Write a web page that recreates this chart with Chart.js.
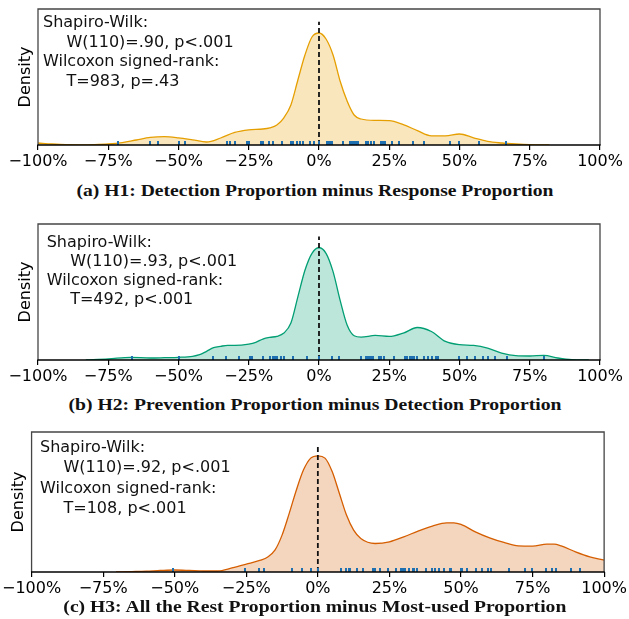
<!DOCTYPE html>
<html><head><meta charset="utf-8">
<script src="https://cdn.jsdelivr.net/npm/chart.js@4"></script>
<style>
html,body{margin:0;padding:0;background:#fff;}
body{width:629px;height:619px;position:relative;overflow:hidden;}
canvas{position:absolute;left:0;}
.ann{position:absolute;font-family:"DejaVu Sans";font-size:16px;color:#111;white-space:nowrap;z-index:2}
.ann .ind{padding-left:23.5px}
.cap{position:absolute;left:0;width:629px;text-align:center;font-family:"Liberation Serif";font-weight:bold;font-size:17px;line-height:17px;color:#111;white-space:nowrap;z-index:2}
.cap span{display:inline-block;transform-origin:50% 50%}
</style></head>
<body>
<canvas id="c1" width="629" height="175" style="top:0px"></canvas>
<canvas id="c2" width="629" height="175" style="top:215px"></canvas>
<canvas id="c3" width="629" height="179" style="top:423px"></canvas>

<div class="ann" style="left:43px;top:12px;line-height:19.5px">Shapiro-Wilk:<div class="ind">W(110)=.90, p&lt;.001</div>Wilcoxon signed-rank:<div class="ind">T=983, p=.43</div></div>
<div class="ann" style="left:46.7px;top:231.6px;line-height:19.2px">Shapiro-Wilk:<div class="ind">W(110)=.93, p&lt;.001</div>Wilcoxon signed-rank:<div class="ind">T=492, p&lt;.001</div></div>
<div class="ann" style="left:40px;top:436.5px;line-height:20.5px">Shapiro-Wilk:<div class="ind">W(110)=.92, p&lt;.001</div>Wilcoxon signed-rank:<div class="ind">T=108, p&lt;.001</div></div>

<div class="cap" style="top:182px"><span data-w="477">(a) H1: Detection Proportion minus Response Proportion</span></div>
<div class="cap" style="top:396px"><span data-w="493">(b) H2: Prevention Proportion minus Detection Proportion</span></div>
<div class="cap" style="top:598px"><span data-w="503">(c) H3: All the Rest Proportion minus Most-used Proportion</span></div>

<script>
// ---- Data (x in %, density values) ----
const tickValues = [-100, -75, -50, -25, 0, 25, 50, 75, 100];
const tickLabels = ["\u2212100%", "\u221275%", "\u221250%", "\u221225%", "0%", "25%", "50%", "75%", "100%"];

const h1X = [-100,-95,-90,-85,-80,-75,-70,-65,-60,-55,-50,-45,-40,-35,-30,-25,-20,-17.5,-15,-12.5,-10,-7.5,-5,-2.5,0,2.5,5,7.5,10,12.5,15,20,25,30,35,40,45,50,55,60,65,70,75,82];
const h1Density = [0.05,0.025,0.008,0.005,0.01,0.025,0.06,0.125,0.19,0.21,0.18,0.13,0.075,0.175,0.315,0.38,0.40,0.43,0.50,0.68,1.0,1.63,2.25,2.7,2.8,2.65,2.25,1.6,1.1,0.75,0.65,0.615,0.61,0.51,0.36,0.23,0.23,0.275,0.18,0.09,0.05,0.025,0.008,0];
const h1Rug = [-71.4,-60.2,-57.2,-49.9,-47.6,-32.8,-31.7,-29.9,-25.5,-25,-20.6,-19.8,-17.7,-16.3,-13.3,-10,-9.5,-9.1,-7.9,-6.8,-5.6,-3.2,-1.7,0,2.7,3.6,4.1,4.7,8.7,11,11.9,12.6,13,14,16.6,17.6,18.4,19.7,22,22.9,23.5,26.1,28.5,33.3,37.5,46.6,49.9,57,66.7];

const h2X = [-83,-75,-67,-60,-55,-50,-45,-42.5,-40,-37.5,-35,-32.5,-30,-25,-22.5,-20,-17.5,-15,-12.5,-10,-7.5,-5,-2.5,0,2.5,5,7.5,10,12.5,15,20,25,30,35,40,45,50,55,60,65,70,75,80,85,90,96];
const h2Density = [0,0.025,0.068,0.05,0.058,0.068,0.093,0.133,0.218,0.308,0.343,0.368,0.368,0.40,0.443,0.525,0.568,0.593,0.675,0.925,1.59,2.25,2.675,2.815,2.675,2.215,1.5,0.875,0.608,0.575,0.615,0.59,0.675,0.815,0.715,0.465,0.383,0.365,0.30,0.175,0.108,0.10,0.115,0.05,0.008,0];
const h2Rug = [-66.4,-50,-37.6,-33.1,-28.4,-24.6,-23.7,-19.8,-17.4,-16.5,-15.7,-14.8,-13.5,-12.3,-9.1,-4.4,0,4.7,7.2,15,16.6,17.2,17.8,18.4,19.1,21.4,21.9,23.1,26.7,30.6,31.4,32.4,33.2,33.8,34.8,37.4,38.9,40.1,41.6,42.5,49.9,52.6,55.5,58.5,60.2,62.6,66.8,80.2];

const h3X = [-70.5,-65,-60,-55,-50,-45,-40,-35,-30,-25,-20,-17.5,-15,-12.5,-10,-7.5,-5,-2.5,0,2.5,5,7.5,10,12.5,15,20,25,30,35,40,45,47.5,50,55,60,65,70,75,80,82.5,85,90,95,100];
const h3Density = [0,0.01,0.02,0.038,0.05,0.04,0.025,0.025,0.1,0.193,0.293,0.375,0.543,0.918,1.46,2.043,2.543,2.835,2.893,2.835,2.5,1.96,1.418,1.043,0.835,0.71,0.75,0.875,1.018,1.143,1.225,1.225,1.185,1.0,0.85,0.735,0.65,0.643,0.693,0.693,0.65,0.5,0.375,0.293];
const h3Rug = [-50.6,-25.3,-20.5,-18.8,-9.1,-5.6,-2.5,0,8.1,10,10.8,11.4,13.7,15.8,19.4,20.1,21.8,24.4,27.3,29,29.9,30.6,31.7,33.1,33.7,34.8,37.7,40,40.9,42.4,44.1,46.1,46.4,49.9,50.5,52.2,55.1,57.4,59.5,60.5,66.7,72.5,74.8,79.8,81.7,83.2,88.6,91.6];

const yMaxes = [3.4, 3.41, 3.485];

// ---- Drawing ----
function rugStyle(color){
  const c = document.createElement('canvas');
  c.width = 2; c.height = 8;
  const g = c.getContext('2d');
  g.fillStyle = color; g.fillRect(0,0,2,4);
  return c;
}
const boxPlugin = {
  id:'box',
  afterDatasetsDraw(chart){
    const {ctx, chartArea:a} = chart;
    ctx.save();
    ctx.lineWidth = 1.3;
    ctx.strokeStyle = '#454545';
    ctx.beginPath();
    ctx.moveTo(a.left, a.bottom); ctx.lineTo(a.left, a.top);
    ctx.lineTo(a.right, a.top); ctx.lineTo(a.right, a.bottom);
    ctx.stroke();
    ctx.strokeStyle = '#000';
    ctx.beginPath(); ctx.moveTo(a.left - 0.6, a.bottom); ctx.lineTo(a.right + 0.6, a.bottom); ctx.stroke();
    ctx.restore();
  }
};
function makePanel(id, xs, ys, rug, line, fillCol, yMax, yAxisW, titlePad, padRight){
  const kde = xs.map((x,i)=>({x, y: ys[i]}));
  const peak = Math.max(...ys);
  new Chart(document.getElementById(id), {
    type:'line',
    data:{datasets:[
      {type:'scatter', data: rug.map(v=>({x:v, y:0})), pointStyle: rugStyle('#1f70b0'), order:0, clip:false},
      {data:[{x:0,y:0},{x:0,y:peak*1.1}], borderColor:'#111', borderWidth:1.8, borderDash:[5,3], pointRadius:0, fill:false, order:1},
      {data:kde, borderColor:line, backgroundColor:fillCol, borderWidth:1.3, fill:'origin', pointRadius:0, cubicInterpolationMode:'monotone', order:2}
    ]},
    options:{
      responsive:false, animation:false, events:[],
      layout:{padding:{top:9, right:padRight, left:0, bottom:0}},
      plugins:{legend:{display:false}, tooltip:{enabled:false}},
      scales:{
        x:{type:'linear', min:-100, max:100,
          afterBuildTicks(s){ s.ticks = tickValues.map(v=>({value:v})); },
          ticks:{autoSkip:false, maxRotation:0, minRotation:0, padding:2, color:'#000',
            font:{family:'DejaVu Sans', size:16}, callback:(v,i)=>tickLabels[i]},
          grid:{display:true, drawOnChartArea:false, drawTicks:true, tickLength:5, color:'#000', lineWidth:1.2},
          border:{display:false},
          afterFit(s){ s.height = 30; }
        },
        y:{min:0, max:yMax,
          ticks:{display:false}, grid:{display:false}, border:{display:false},
          title:{display:true, text:'Density', color:'#000', font:{family:'DejaVu Sans', size:16}, padding:{top:titlePad, bottom:0}},
          afterFit(s){ s.width = yAxisW; }
        }
      }
    },
    plugins:[boxPlugin]
  });
}
makePanel('c1', h1X, h1Density, h1Rug, '#e69f00', 'rgba(230,159,0,0.26)', yMaxes[0], 38, 16, 29);
makePanel('c2', h2X, h2Density, h2Rug, '#009e73', 'rgba(0,158,115,0.26)', yMaxes[1], 38, 16, 29);
makePanel('c3', h3X, h3Density, h3Rug, '#d55e00', 'rgba(213,94,0,0.26)', yMaxes[2], 30, 8, 23.5);

// fit caption widths to the reference
document.querySelectorAll('.cap span').forEach(s=>{
  const w = s.getBoundingClientRect().width;
  const target = +s.dataset.w;
  s.style.transform = 'scaleX(' + (target / w).toFixed(4) + ')';
});
</script>
</body></html>
